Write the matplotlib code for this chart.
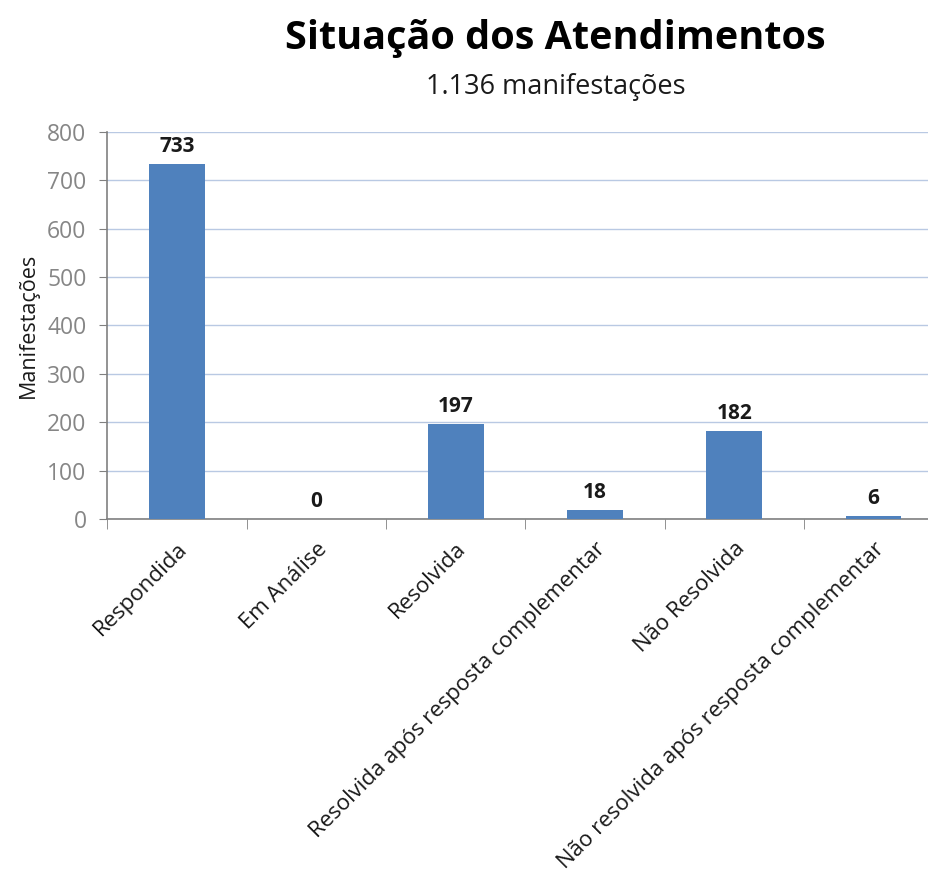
import matplotlib
matplotlib.use("Agg")
import matplotlib.pyplot as plt
import numpy as np

categories = ["Respondida", "Em Análise", "Resolvida", "Resolvida após resposta complementar",
              "Não Resolvida", "Não resolvida após resposta complementar"]
values = [733, 0, 197, 18, 182, 6]
yticks = [0, 100, 200, 300, 400, 500, 600, 700, 800]

plt.rcParams['font.family'] = ['Open Sans', 'DejaVu Sans']

fig = plt.figure(figsize=(9.29, 8.84), dpi=100)
ax = fig.add_axes([0.1156, 0.4129, 0.8997, 0.4378])

x = np.arange(len(categories))
bar_color = "#4f81bd"
ax.bar(x, values, width=0.40, color=bar_color, zorder=3)

for xi, v in zip(x, values):
    ax.annotate(str(v), (xi, v), xytext=(0, 5), textcoords="offset points",
                ha="center", va="bottom", fontsize=15, fontweight="bold", color="#1a1a1a")

ax.set_xlim(-0.5, len(categories) - 0.5)
ax.set_ylim(0, 800)
ax.set_yticks(yticks)
ax.set_yticklabels([str(t) for t in yticks], fontsize=16.5, color="#868686")
ax.yaxis.grid(True, color="#b9c9e3", linewidth=1, zorder=0)
ax.tick_params(axis='y', length=6, color="#808080", pad=9)

ax.set_xticks(x)
ax.set_xticklabels(categories, rotation=45, ha="right", rotation_mode="anchor",
                   fontsize=16, color="#1a1a1a")
ax.tick_params(axis='x', length=0, pad=14)
ax.set_xticks(np.arange(-0.5, len(categories) - 0.4, 1.0), minor=True)
ax.tick_params(axis='x', which='minor', length=7, color="#808080")

for s in ["top", "right"]:
    ax.spines[s].set_visible(False)
ax.spines["left"].set_color("#808080")
ax.spines["bottom"].set_color("#808080")
ax.spines["left"].set_linewidth(1.2)
ax.spines["bottom"].set_linewidth(1.2)

ax.set_ylabel("Manifestações", fontsize=15.5, color="#1a1a1a", labelpad=6)

fig.text(0.598, 0.957, "Situação dos Atendimentos", ha="center", va="center",
         fontsize=28.5, fontweight="bold", color="#000000")
fig.text(0.598, 0.902, "1.136 manifestações", ha="center", va="center",
         fontsize=19.5, color="#1a1a1a")

fig.savefig("out.png", dpi=100)
